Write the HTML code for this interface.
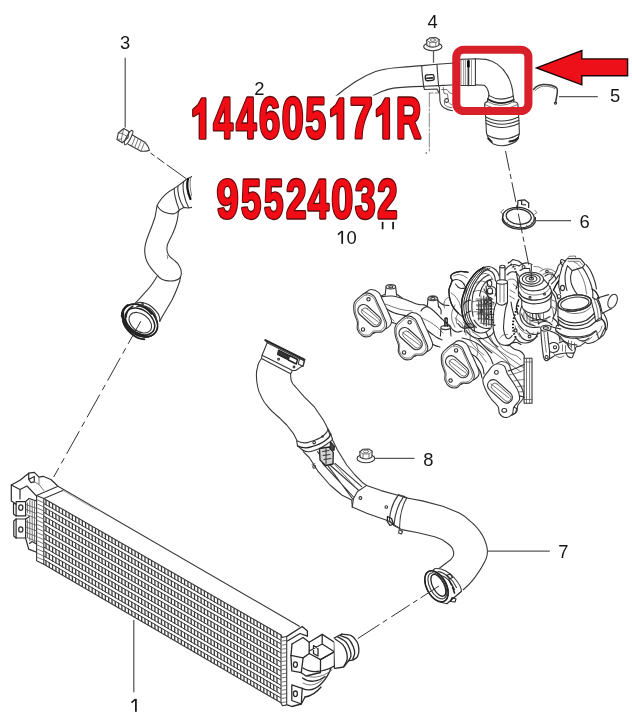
<!DOCTYPE html>
<html><head><meta charset="utf-8"><title>diagram</title>
<style>
html,body{margin:0;padding:0;background:#fff;}
body{width:632px;height:720px;overflow:hidden;font-family:"Liberation Sans",sans-serif;}
svg{display:block}
.l{fill:none;stroke:#383838;stroke-width:1.1;stroke-linecap:round;stroke-linejoin:round}
.t{fill:none;stroke:#555;stroke-width:.8;stroke-linecap:round;stroke-linejoin:round}
.k{fill:none;stroke:#222;stroke-width:1.4;stroke-linecap:round;stroke-linejoin:round}
.w{fill:#fff;stroke:#383838;stroke-width:1.1;stroke-linejoin:round}
.dd{fill:none;stroke:#333;stroke-width:1;stroke-dasharray:22 4 5 4}
.lead{fill:none;stroke:#585858;stroke-width:1.25}
.num{font-family:"Liberation Sans",sans-serif;font-size:18.4px;fill:#161616;text-anchor:middle}
.one{fill:none;stroke:#161616;stroke-width:1.75}
.onef{fill:none;stroke:#161616;stroke-width:1.5;stroke-linecap:butt}
.ro *,.rd *,.rf *{font-family:"Liberation Sans",sans-serif;font-weight:bold;stroke-linejoin:round;vector-effect:non-scaling-stroke}
.ro *{fill:#fff;stroke:#fff;stroke-width:6}
.rd *{fill:#5e090b;stroke:#5e090b;stroke-width:2.8}
.rf *{fill:#f20d16;stroke:#f20d16;stroke-width:.5}
</style></head><body>
<svg width="632" height="720" viewBox="0 0 632 720" style="will-change:transform;opacity:.999">
<rect width="632" height="720" fill="#fff"/>
<!-- bolt 3 -->
<g id="bolt3" class="l">
<path d="M123.8 128.5L129 131.5L128 137.5L122.3 142.8L117 139.5L118.3 133Z"/>
<path d="M123.8 128.5L122.5 133.5L118.3 133M122.5 133.5L127 136.5M122.5 133.5L121.5 139L117 139.5M121.5 139L122.3 142.8" class="t"/>
<ellipse cx="128.6" cy="137.6" rx="2.1" ry="8" transform="rotate(28 128.6 137.6)"/>
<path d="M132 134.8L144.8 142.2Q149 147 149.3 150.4Q145 151.6 141 151.2L128.2 144.2"/>
<path d="M135.3 136.8L131.6 146M138.3 138.6L134.6 147.8M141.3 140.3L137.6 149.5M144.6 142.2L140.9 151.2" class="t"/>
</g>
<path class="dd" d="M150.5 153L186 178.5" style="stroke-dasharray:5 3 9 3 30 3"/>
<!-- left hose (2) -->
<g id="lefthose" class="l">
<path d="M191.9 176.4L186.8 178.9L183.7 181.5L178 185.9L174.2 188.4C168 191.5 162 197 158.4 203C157 205.5 156.5 208 156.5 209C156 214 155 219 152 225.8C150 231 146 240 145.1 246C144.3 251 145 257 147 261.5C149.5 267 154 272 157.7 275.6"/>
<path d="M191.9 207.4L188.1 208L183.7 207.4L179.2 209.9C178.3 212 178 214 178 215.6C177.5 219 177 222 176.1 224.5C175 229 173 232.5 171.6 235.9C169.5 240 167.5 243.5 167.2 246C166.5 249.5 167 252.5 168.5 255C170.5 258 173 259.5 174.8 260.7C177 262.5 178.5 264 179.1 265.7C181 268.5 181.5 272 181.2 274C181 276 180.8 276.5 180.5 277.1C180 281 179 284 177.7 287C176 291.5 174 296 172 299.9L166.3 309.8L162 317L159.8 321.2"/>
<path d="M174.2 188.4C174 193 175.5 200 179.2 209.9"/>
<path d="M178 185.9C177 191 179 200 183.7 207.4"/>
<path d="M183.7 181.5C182 187 184 199 188.7 207.8"/>
<path d="M188 179C186.5 184 187.5 192 190.5 199" stroke="#111" stroke-width="2.2"/>
<path d="M190.6 177.5C189.6 183 190 190 191.8 196" class="t"/>
<path d="M157.1 205.5C159 209 162 211.5 165.3 212.5C169 213.8 172 214 174.2 213.7C176 213.3 177.5 212 178.6 210.6"/>
<path d="M157.7 275.6C160 278.5 163 280 166.3 280.6C169 281.2 172 281.2 174.8 280.6C177 280 179.5 278.5 180.5 277.1"/>
<path d="M157 276.4C155.5 279 153.5 282 152 284.2C150 287 147 290.5 144.9 292.7L138.5 299.9L134.2 304.1"/>
<path d="M167.5 258.5C168 257.3 167.6 256.3 167.2 255.5" class="t"/>
</g>
<g id="leftclamp">
<g transform="rotate(38 139.9 320.5)">
<ellipse class="w" cx="139.9" cy="320.5" rx="19.6" ry="14"/>
<ellipse class="k" cx="139.9" cy="320.5" rx="19.6" ry="14" style="stroke-width:1.7"/>
<ellipse class="k" cx="140.6" cy="321.2" rx="16.4" ry="11.4" style="stroke-width:1.5"/>
<ellipse class="l" cx="141.6" cy="322" rx="12.6" ry="8.6"/>
<path class="k" d="M122 325C127 333 146 336.5 156.5 328" style="stroke-width:2.4"/>
<path class="k" d="M127 331.5C134 337 148 338 155 332.5" style="stroke-width:1.8"/>
<path class="k" d="M121 316C119.5 320 120.5 324.5 123 328" style="stroke-width:2.4"/>
<path class="k" d="M125.5 313.5C123.5 318 124.5 323 127 326.5" style="stroke-width:1.6"/>
<path class="k" d="M130 309.5C134 307.5 140 307 145 308" style="stroke-width:1.8"/>
</g>
<path class="l" d="M134.2 304.1C137 302.5 140.5 302 143.5 302.7C147 303.6 150 305 152 307C155 309.5 157 312 158.4 314.1C159.5 316.5 160 319 159.8 321.2"/>
<path class="l" d="M136.5 307C140 305 145.5 305.5 150 308.5C154 311.5 156.8 316 156.5 322"/>
<circle cx="142.6" cy="303.9" r=".8" class="l"/>
</g>
<path class="dd" d="M140.8 321.2L53.7 477" style="stroke-dasharray:26 5 6 5"/>
<!-- pipe 2 right part, nut 4, bracket -->
<g id="pipe2" class="l" transform="translate(0 1)">
<path d="M335.5 95.5C342 90 349 85 355.3 80.8C362 76.5 369 73 375.6 70.6C382 68.5 389 67.4 395.8 66.8C405 66 414 65.2 422.4 64.6L437 63.3L458 61.8"/>
<path d="M371.8 95.5C374.5 93.8 377.5 92.2 380.6 90.9C385 89.2 389 88 393.3 87.1C403 85.9 414 85.6 423.7 85.3L438.9 84.6L452 84"/>
<path d="M421.7 64.8C422 72 423 80 423.8 86.2"/>
<path d="M437 63.5C437.3 70 438 78 438.6 85.2"/>
<rect x="425.3" y="73.8" width="8.8" height="5.8" rx="2" transform="rotate(-4 429.7 76.7)" stroke="#222" stroke-width="1.3"/>
<path d="M426.8 77.3L432.6 76.9" stroke="#222" stroke-width="1.6"/>
<!-- bracket -->
<path d="M423.8 86.2L424.5 88.5L437 88L438.8 91.5"/>
<path d="M439.3 86L440 100C440.3 103 441.5 105 444 106.8C446.5 108.4 449.5 109.3 452.5 109.7"/>
<path d="M443.3 86.5L444 92.5L447.5 93L448 97.5" class="t"/>
<circle cx="446.6" cy="99.5" r="1.9"/>
<path d="M448.6 101.5C450 103 451 103.5 452 103.8M444.3 100L444.6 103.5C446 105.5 449 106.5 452 106.8" class="t"/>
<path d="M441.5 88.5L447 88.5L449.5 92L452 92.5" class="t"/>
</g>
<g id="nut4" class="l" style="stroke-width:1.15;stroke:#2a2a2a">
<ellipse class="w" cx="432.8" cy="46.6" rx="9.2" ry="4.1"/>
<path class="w" d="M427 45.5L426.6 40.2L430 37.8L436 37.6L439.2 39.8L438.8 45.4C436 47.6 430 47.8 427 45.5Z"/>
<path d="M426.6 40.2L429.8 42.3L435.8 42.4L439.2 39.8M429.8 42.3L429.9 47M435.8 42.4L435.8 47" class="t"/>
<ellipse cx="432.9" cy="40" rx="2.6" ry="1.4" class="t"/>
</g>
<path class="lead" d="M433.5 51V62.8"/>
<!-- thin vertical dash-dot line at x=429 -->
<path d="M429.3 93V152" class="t" style="stroke-dasharray:14 2 2 2;stroke:#666"/>
<path d="M429.3 93H439.5" class="t" style="stroke-dasharray:4 2;stroke:#666"/>
<circle cx="426.3" cy="153" r=".8" fill="#444"/>
<!-- elbow & connector -->
<g id="elbow" class="l">
<path d="M458 61.5L461 59.4L475.4 58.8L486.1 59.4C490 60.3 494 62 497.2 64.1C501 66.8 504.3 70.2 506.7 74.4C509 78 510.6 82 511.5 85.5C512.5 89 513 92.5 513.2 96"/>
<path d="M475.4 84.9L484.2 85.3C486 86.5 487.3 88.5 488 90.5C488.6 92.3 488.9 94 489 95.6"/>
<path d="M461 59.6V85.5M463.7 59.4V85.5M465.6 59.4V85.5" class="t" style="stroke:#777"/><path d="M475.4 58.8V84.9"/>
<path d="M468.4 60V85.5" stroke="#333" stroke-width="1.7"/><path d="M468.4 60.6V67.2" stroke="#000" stroke-width="2.6" stroke-linecap="butt"/>
<path d="M461 85.5H475.4"/>
<path d="M471.5 60V84.5" class="t" style="stroke:#888"/>
<path d="M489 95.6Q500.6 102.4 513.2 96"/>
<path d="M487.8 99Q500.5 107 513.8 99.7" stroke="#222" stroke-width="1.6"/>
<path d="M489 95.6L487.8 99L487.4 101.6M513.2 96L513.8 99.7L513.6 101.8"/>
<path d="M487.4 101.6Q500.5 109.2 513.6 101.8" class="t"/>
<path d="M487.4 101.6C485.6 102 484.6 103 484.6 104.5L485.7 118L486.5 133C487.3 136 488.5 138.5 489.7 139.9L492.8 143.7Q503.5 148.5 515.6 141.8C517 140.5 518 139 518.2 138L519.4 133L518.8 118L517.9 104.5C517.8 103 516.6 102 513.6 101.8"/>
<path d="M484.6 104.5Q500.5 113.5 517.9 104.5" class="t"/>
<path d="M485.7 117Q501 125 518.6 117M486 120.2Q501.5 128.3 518.8 120.2M486.2 123.4Q501.5 131.5 519 123.4"/>
<path d="M487.6 135.3Q503 143.5 518.9 134.2"/>
<path d="M488.3 138.5L491.5 141.8M509.5 141.5C513 141 516.5 139.8 518 138" stroke="#222" stroke-width="2"/>
</g>
<path class="dd" d="M505.5 151L531 276" style="stroke-dasharray:20 3.5 5 3.5"/>
<!-- part 6 clamp -->
<g id="clamp6" class="l" style="stroke-width:1.25;stroke:#2a2a2a">
<ellipse cx="518.5" cy="217.6" rx="15.8" ry="10.2" transform="rotate(6 518.5 217.6)"/>
<ellipse cx="518.7" cy="216.6" rx="12.6" ry="7.6" transform="rotate(6 518.7 216.6)"/>
<path d="M503 214.5L502.3 219.5C503.5 224.5 510 228.5 518.5 229.2C527 229.6 533.5 226.5 535.2 222L535.4 217.5" />
<path d="M507 225.5L507.5 222.6M513 228.4L513.3 225.6M520 229.2L520 226.3M527 228L526.6 225.3M532 225L531.3 222.6" class="t"/>
<path d="M517.6 206.3L518 200.5L524.5 199.8L528.8 203L528.6 207.4M521.5 200.2L521.7 204.5L525.6 204.8" />
<path d="M502.6 214L500.8 211.8L503.8 209.4M534.6 214.2L537 212.6L534.8 210.3" class="t"/>
</g>
<!-- part 5 clip -->
<g id="clip5" class="l">
<path d="M533.5 89.5C536 86.5 539.5 84.8 543 84.6C548 84.3 553.5 85.6 556.5 87.6C558 89.5 557.5 92 557 94.5L555.6 102.5" stroke-width="1.5"/>
<path d="M535 90.8C537.5 88 540.5 86.4 543.5 86.2C548 86 552.5 87 555 88.6" class="t"/>
<ellipse cx="555.5" cy="103.3" rx="1.2" ry=".9"/>
</g>
<!-- manifold + turbo -->
<g id="turbo" class="l" style="stroke-width:1.1;stroke:#303030">
<path d="M378.0 297.0C379.0 296.9 381.7 296.7 384.0 296.5C386.3 296.3 389.3 295.8 392.0 296.0C394.7 296.2 397.3 296.9 400.0 297.7C402.7 298.4 405.6 299.6 408.0 300.5C410.4 301.4 412.6 302.5 414.4 303.2C416.2 303.9 417.4 304.2 419.0 304.5C420.6 304.8 423.1 304.8 423.9 304.8"/>
<path d="M384.3 307.2C385.1 307.7 387.4 309.4 389.0 310.3C390.6 311.2 392.0 312.0 393.8 312.7C395.6 313.4 397.9 314.0 400.0 314.5C402.1 315.0 404.5 315.4 406.5 315.9C408.5 316.4 411.1 317.2 412.0 317.5"/>
<path d="M383.0 312.0C383.5 313.0 384.7 316.3 386.0 318.0C387.3 319.7 389.3 321.1 391.0 322.0C392.7 322.9 395.2 323.2 396.0 323.5"/>
<path d="M381.0 303.0C382.2 303.3 385.5 304.2 388.0 305.0C390.5 305.8 393.3 307.2 396.0 308.0C398.7 308.8 401.3 309.5 404.0 310.0C406.7 310.5 410.7 310.8 412.0 311.0" class="t"/>
<path d="M389.0 313.0C389.3 313.8 390.2 316.7 391.0 318.0C391.8 319.3 393.5 320.5 394.0 321.0" class="t"/>
<path d="M386.1 286.8L385.1 295.3M395.6 286.8L396.6 295.3"/>
<ellipse class="w" cx="390.8" cy="286.8" rx="4.8" ry="2.2"/>
<ellipse cx="390.8" cy="286.8" rx="2.1" ry="1.1"/>
<path d="M428.1 298.6L427.1 307.1M437.6 298.6L438.6 307.1"/>
<ellipse class="w" cx="432.8" cy="298.6" rx="4.8" ry="2.2"/>
<ellipse cx="432.8" cy="298.6" rx="2.1" ry="1.1"/>
<path d="M384.5 294.5C383.9 294.8 382.0 295.4 381.0 296.0C380.0 296.6 378.9 297.7 378.5 298.0"/>
<path d="M397.0 294.5C397.5 294.8 399.2 295.9 400.0 296.5C400.8 297.1 401.7 297.8 402.0 298.0"/>
<path d="M426.5 306.5C425.9 306.8 423.9 307.8 423.0 308.5C422.1 309.2 421.3 310.6 421.0 311.0"/>
<path d="M439.0 306.5C439.3 307.1 440.7 308.8 441.0 310.0C441.3 311.2 441.0 313.3 441.0 314.0"/>
<path d="M423.9 304.8C424.9 305.3 428.0 306.6 430.0 308.0C432.0 309.4 434.2 311.3 436.0 313.0C437.8 314.7 439.3 316.3 441.0 318.0C442.7 319.7 444.5 321.3 446.0 323.0C447.5 324.7 449.3 327.2 450.0 328.0"/>
<path d="M427.0 330.0C427.8 330.7 430.3 332.8 432.0 334.0C433.7 335.2 435.3 336.5 437.0 337.5C438.7 338.5 441.2 339.6 442.0 340.0"/>
<path d="M425.5 334.0C426.0 335.0 427.1 338.2 428.5 340.0C429.9 341.8 432.1 343.8 434.0 345.0C435.9 346.2 439.0 346.7 440.0 347.0"/>
<path d="M422.0 318.0C423.3 318.7 427.5 320.5 430.0 322.0C432.5 323.5 434.8 325.2 437.0 327.0C439.2 328.8 442.0 332.0 443.0 333.0" class="t"/>
<path d="M415.0 314.0C415.8 315.7 418.5 321.3 420.0 324.0C421.5 326.7 423.3 329.0 424.0 330.0" class="t"/>
<path d="M444.9 318.5V326.5M447.3 318.5V326.5" stroke="#222"/>
<ellipse cx="446.1" cy="318.3" rx="1.2" ry=".6"/>
<path d="M441 327.8L440.4 336M450.3 327.8L451 336"/>
<ellipse class="w" cx="445.6" cy="327.6" rx="4.7" ry="2"/>
<path d="M444.9 322V326.5M447.3 322V326.5" stroke="#222"/>
<ellipse class="w" cx="469.4" cy="325.8" rx="4.6" ry="2"/>
<path d="M464.8 326L464.4 332M474 326L474.5 331"/>
<path d="M462.0 338.0C463.3 338.3 467.3 339.0 470.0 340.0C472.7 341.0 475.5 342.3 478.0 344.0C480.5 345.7 483.0 347.8 485.0 350.0C487.0 352.2 488.7 354.7 490.0 357.0C491.3 359.3 492.5 362.8 493.0 364.0"/>
<path d="M471.0 354.0C471.8 354.5 474.5 355.7 476.0 357.0C477.5 358.3 478.8 360.2 480.0 362.0C481.2 363.8 482.3 366.0 483.0 368.0C483.7 370.0 483.8 373.0 484.0 374.0"/>
<path d="M473.0 362.0C473.7 362.7 475.8 364.3 477.0 366.0C478.2 367.7 479.7 370.0 480.5 372.0C481.3 374.0 481.8 377.0 482.0 378.0"/>
<path d="M466.0 345.0C467.2 345.5 470.7 346.5 473.0 348.0C475.3 349.5 477.8 351.7 480.0 354.0C482.2 356.3 485.0 360.7 486.0 362.0" class="t"/>
<path d="M476.0 343.0C476.3 344.2 477.8 347.8 478.0 350.0C478.2 352.2 477.2 355.0 477.0 356.0" class="t"/>
<path d="M466 332L521 372M472 331.5L524 368" class="t"/>
<path d="M370.9 289.5C373.3 289.4 376.8 290.9 378.8 292.7C380.8 294.6 381.2 297.3 382.8 300.6C384.4 303.9 386.9 308.9 388.3 312.5C389.8 316.1 391.8 319.4 391.5 322.0C391.2 324.6 388.9 327.1 386.8 328.3C384.7 329.5 380.9 328.3 378.8 329.1C376.7 329.9 376.1 332.6 374.1 333.1C372.1 333.6 369.0 333.5 367.0 332.3C365.0 331.1 363.0 328.2 362.2 325.9C361.4 323.7 362.7 321.6 362.2 318.8C361.7 316.0 359.5 312.5 359.0 309.3C358.5 306.1 358.1 302.4 359.0 299.8C359.9 297.2 362.6 295.2 364.6 293.5C366.6 291.8 368.5 289.6 370.9 289.5Z" class="w"/>
<path d="M366.1 292.9C368.5 292.8 372.0 294.2 374.0 296.1C376.0 298.0 376.4 300.7 378.0 304.0C379.6 307.3 382.1 312.3 383.5 315.9C384.9 319.5 386.9 322.8 386.7 325.4C386.4 328.0 384.1 330.5 382.0 331.7C379.9 332.9 376.1 331.7 374.0 332.5C371.9 333.3 371.3 336.0 369.3 336.5C367.3 337.0 364.2 336.9 362.2 335.7C360.2 334.5 358.2 331.6 357.4 329.3C356.6 327.1 357.9 325.0 357.4 322.2C356.9 319.4 354.7 315.9 354.2 312.7C353.7 309.5 353.3 305.8 354.2 303.2C355.1 300.6 357.8 298.6 359.8 296.9C361.8 295.2 363.7 293.0 366.1 292.9Z" class="w"/>
<path d="M366.3 294.8C368.5 294.7 371.7 296.1 373.4 297.8C375.2 299.5 375.6 302.0 377.0 305.0C378.5 308.1 380.7 312.7 382.0 316.0C383.3 319.3 385.1 322.3 384.9 324.7C384.7 327.1 382.6 329.4 380.6 330.5C378.7 331.6 375.4 330.5 373.4 331.2C371.5 332.0 371.0 334.4 369.2 334.9C367.4 335.4 364.6 335.3 362.8 334.2C361.0 333.1 359.2 330.4 358.5 328.3C357.8 326.2 359.0 324.3 358.5 321.8C358.0 319.2 356.1 315.9 355.6 313.0C355.1 310.1 354.8 306.7 355.6 304.3C356.5 301.9 358.9 300.1 360.7 298.5C362.5 296.9 364.2 294.9 366.3 294.8Z" class="t"/>
<circle cx="368.5" cy="299.3" r="1.7"/>
<circle cx="363.0" cy="329.5" r="1.7"/>
<rect x="355.8" y="309.9" width="27.5" height="11.4" rx="5.7" transform="rotate(42 369.5 315.6)"/>
<rect class="t" x="359.7" y="313.0" width="22.0" height="7.0" rx="3.5" transform="rotate(42 370.7 316.5)"/>
<path d="M361.5 309.6L378.5 322.1" class="t"/>
<path d="M412.0 312.5C414.4 312.4 417.9 313.9 419.9 315.7C421.9 317.6 422.3 320.3 423.9 323.6C425.5 326.9 428.0 331.9 429.4 335.5C430.9 339.1 432.9 342.4 432.6 345.0C432.4 347.6 430.0 350.1 427.9 351.3C425.8 352.5 422.0 351.3 419.9 352.1C417.8 352.9 417.2 355.6 415.2 356.1C413.2 356.6 410.1 356.5 408.1 355.3C406.1 354.1 404.1 351.2 403.3 348.9C402.5 346.7 403.8 344.6 403.3 341.8C402.8 339.0 400.6 335.5 400.1 332.3C399.6 329.1 399.2 325.4 400.1 322.8C401.0 320.2 403.7 318.2 405.7 316.5C407.7 314.8 409.6 312.6 412.0 312.5Z" class="w"/>
<path d="M407.2 315.9C409.6 315.8 413.1 317.2 415.1 319.1C417.1 321.0 417.5 323.7 419.1 327.0C420.7 330.3 423.2 335.3 424.6 338.9C426.1 342.5 428.1 345.8 427.8 348.4C427.6 351.0 425.2 353.5 423.1 354.7C421.0 355.9 417.2 354.7 415.1 355.5C413.0 356.3 412.4 359.0 410.4 359.5C408.4 360.0 405.3 359.9 403.3 358.7C401.3 357.5 399.3 354.6 398.5 352.3C397.7 350.1 399.0 348.0 398.5 345.2C398.0 342.4 395.8 338.9 395.3 335.7C394.8 332.5 394.4 328.8 395.3 326.2C396.2 323.6 398.9 321.6 400.9 319.9C402.9 318.2 404.8 316.0 407.2 315.9Z" class="w"/>
<path d="M407.4 317.8C409.6 317.7 412.8 319.1 414.5 320.8C416.3 322.5 416.7 325.0 418.1 328.0C419.6 331.1 421.8 335.7 423.1 339.0C424.4 342.3 426.2 345.3 426.0 347.7C425.8 350.1 423.7 352.4 421.7 353.5C419.8 354.6 416.5 353.5 414.5 354.2C412.6 355.0 412.1 357.4 410.3 357.9C408.5 358.4 405.7 358.3 403.9 357.2C402.1 356.1 400.3 353.4 399.6 351.3C398.9 349.2 400.1 347.3 399.6 344.8C399.1 342.2 397.2 338.9 396.7 336.0C396.2 333.1 395.9 329.7 396.7 327.3C397.6 324.9 400.0 323.1 401.8 321.5C403.6 319.9 405.3 317.9 407.4 317.8Z" class="t"/>
<circle cx="409.6" cy="322.3" r="1.7"/>
<circle cx="404.1" cy="352.5" r="1.7"/>
<rect x="396.9" y="332.9" width="27.5" height="11.4" rx="5.7" transform="rotate(42 410.6 338.6)"/>
<rect class="t" x="400.8" y="336.0" width="22.0" height="7.0" rx="3.5" transform="rotate(42 411.8 339.5)"/>
<path d="M402.6 332.6L419.6 345.1" class="t"/>
<path d="M458.5 340.6C460.9 340.5 464.4 342.0 466.4 343.8C468.4 345.6 468.8 348.4 470.4 351.7C472.0 355.0 474.5 360.0 475.9 363.6C477.4 367.2 479.4 370.5 479.1 373.1C478.9 375.7 476.5 378.2 474.4 379.4C472.3 380.6 468.5 379.4 466.4 380.2C464.3 381.0 463.7 383.7 461.7 384.2C459.7 384.7 456.6 384.6 454.6 383.4C452.6 382.2 450.6 379.2 449.8 377.0C449.0 374.8 450.3 372.7 449.8 369.9C449.3 367.1 447.1 363.6 446.6 360.4C446.1 357.2 445.7 353.5 446.6 350.9C447.5 348.3 450.2 346.3 452.2 344.6C454.2 342.9 456.1 340.7 458.5 340.6Z" class="w"/>
<path d="M453.7 344.0C456.1 343.9 459.6 345.4 461.6 347.2C463.6 349.0 464.0 351.8 465.6 355.1C467.2 358.4 469.7 363.4 471.1 367.0C472.6 370.6 474.6 373.9 474.3 376.5C474.1 379.1 471.7 381.6 469.6 382.8C467.5 384.0 463.7 382.8 461.6 383.6C459.5 384.4 458.9 387.1 456.9 387.6C454.9 388.1 451.8 388.0 449.8 386.8C447.8 385.6 445.8 382.6 445.0 380.4C444.2 378.1 445.5 376.1 445.0 373.3C444.5 370.5 442.3 367.0 441.8 363.8C441.3 360.6 440.9 356.9 441.8 354.3C442.7 351.7 445.4 349.7 447.4 348.0C449.4 346.3 451.3 344.1 453.7 344.0Z" class="w"/>
<path d="M453.9 345.9C456.1 345.8 459.3 347.2 461.0 348.9C462.8 350.6 463.2 353.1 464.6 356.1C466.1 359.2 468.3 363.8 469.6 367.1C470.9 370.4 472.7 373.4 472.5 375.8C472.3 378.2 470.2 380.5 468.2 381.6C466.3 382.7 463.0 381.6 461.0 382.3C459.1 383.1 458.6 385.5 456.8 386.0C455.0 386.5 452.2 386.4 450.4 385.3C448.6 384.2 446.8 381.5 446.1 379.4C445.4 377.3 446.6 375.4 446.1 372.9C445.6 370.3 443.7 367.0 443.2 364.1C442.7 361.2 442.4 357.8 443.2 355.4C444.1 353.0 446.5 351.2 448.3 349.6C450.1 348.0 451.8 346.0 453.9 345.9Z" class="t"/>
<circle cx="456.1" cy="350.4" r="1.7"/>
<circle cx="450.6" cy="380.6" r="1.7"/>
<rect x="443.4" y="361.0" width="27.5" height="11.4" rx="5.7" transform="rotate(42 457.1 366.7)"/>
<rect class="t" x="447.3" y="364.1" width="22.0" height="7.0" rx="3.5" transform="rotate(42 458.3 367.6)"/>
<path d="M449.1 360.7L466.1 373.2" class="t"/>
<path d="M501.4 361.5C503.4 361.5 506.8 362.2 508.5 363.9C510.2 365.6 510.1 368.9 511.7 371.8C513.3 374.7 516.2 378.3 518.0 381.3C519.8 384.3 521.8 387.2 522.7 390.0C523.6 392.8 524.3 395.4 523.5 397.9C522.7 400.4 519.2 402.6 518.0 405.0C516.8 407.4 517.9 410.5 516.4 412.2C515.0 413.9 511.4 415.4 509.3 415.3C507.2 415.2 505.0 413.2 503.8 411.4C502.6 409.6 503.6 406.8 502.2 404.3C500.8 401.8 497.2 399.2 495.1 396.3C493.0 393.4 490.8 389.9 489.5 386.8C488.2 383.7 486.6 380.4 487.1 377.4C487.6 374.4 491.1 370.9 492.7 368.7C494.3 366.4 495.1 365.1 496.6 363.9C498.0 362.7 499.4 361.5 501.4 361.5Z" class="w"/>
<path d="M497.2 363.7C499.2 363.7 502.6 364.4 504.3 366.1C506.0 367.8 505.9 371.1 507.5 374.0C509.1 376.9 512.0 380.5 513.8 383.5C515.6 386.5 517.6 389.4 518.5 392.2C519.4 395.0 520.1 397.6 519.3 400.1C518.5 402.6 515.0 404.8 513.8 407.2C512.6 409.6 513.7 412.7 512.2 414.4C510.8 416.1 507.2 417.6 505.1 417.5C503.0 417.4 500.8 415.4 499.6 413.6C498.4 411.8 499.4 409.0 498.0 406.5C496.6 404.0 493.0 401.4 490.9 398.5C488.8 395.6 486.6 392.1 485.3 389.0C484.0 385.9 482.4 382.6 482.9 379.6C483.4 376.6 486.9 373.1 488.5 370.9C490.1 368.6 490.9 367.3 492.4 366.1C493.8 364.9 495.2 363.7 497.2 363.7Z" class="w"/>
<circle cx="496.4" cy="372.4" r="1.9"/>
<ellipse cx="504.3" cy="410.4" rx="2.4" ry="1.9"/>
<rect x="485.2" y="385.7" width="29.5" height="11.4" rx="5.7" transform="rotate(42 500.0 391.4)"/>
<rect class="t" x="489.2" y="388.8" width="24.0" height="7.0" rx="3.5" transform="rotate(42 501.2 392.3)"/>
<path d="M491 384L509 398" class="t"/>
<path d="M512 415L515.5 413L517 408.5L513.8 407.2" />
<path d="M524.1 358.2H532V403.3H524.1Z" class="w"/>
<path d="M526.5 358.2V403.3M529.6 358.2V403.3" class="t"/>
<path d="M524.1 362H532M524.1 399.5H532" class="t"/>
<path d="M508.0 371.0C509.0 370.7 512.0 369.8 514.0 369.0C516.0 368.2 518.3 367.2 520.0 366.5C521.7 365.8 523.4 364.8 524.1 364.5"/>
<path d="M519.5 396.0C519.9 396.1 521.2 396.2 522.0 396.5C522.8 396.8 523.8 397.3 524.1 397.5"/>
<path d="M509.0 375.0C510.0 374.8 513.0 374.1 515.0 373.5C517.0 372.9 519.5 372.1 521.0 371.5C522.5 370.9 523.6 370.2 524.1 370.0" class="t"/>
<path d="M514.0 381.0C514.8 380.8 517.3 380.2 519.0 380.0C520.7 379.8 523.2 379.6 524.0 379.5" class="t"/>
<path d="M517.5 386.5L524 386M519 392L524 391.5" class="t"/>
<path d="M468.0 272.2C466.7 272.1 462.5 271.3 460.0 271.5C457.5 271.7 454.6 272.6 453.0 273.5C451.4 274.4 450.8 275.6 450.6 276.9C450.4 278.1 452.3 278.9 452.0 281.0C451.7 283.1 449.4 286.9 449.0 289.6C448.6 292.3 449.1 294.6 449.5 297.0C449.9 299.4 450.6 301.8 451.4 303.8C452.2 305.8 453.3 307.4 454.5 309.0C455.7 310.6 457.1 312.0 458.5 313.3C459.9 314.6 462.2 316.4 463.0 317.0"/>
<path d="M452.0 281.0C452.7 280.8 454.5 279.5 456.0 279.5C457.5 279.5 459.7 280.2 461.0 281.0C462.3 281.8 463.5 283.5 464.0 284.0"/>
<path d="M453.5 276.0C454.2 275.8 456.4 274.6 458.0 274.5C459.6 274.4 461.5 274.9 463.0 275.5C464.5 276.1 466.3 277.6 467.0 278.0" class="t"/>
<path d="M451.0 293.0C451.7 293.5 453.7 294.5 455.0 296.0C456.3 297.5 458.0 300.0 459.0 302.0C460.0 304.0 460.7 307.0 461.0 308.0" class="t"/>
<path d="M483.8 267.4C482.6 268.2 478.6 270.1 476.5 272.0C474.4 273.9 472.7 276.2 471.1 278.5C469.5 280.8 468.0 283.1 466.8 285.5C465.6 287.9 464.8 290.3 464.0 292.7C463.2 295.1 462.4 297.6 462.0 300.0C461.6 302.4 461.6 304.8 461.6 307.0C461.7 309.2 461.9 311.4 462.3 313.5C462.7 315.6 463.3 317.9 464.0 319.6C464.7 321.4 465.6 322.7 466.5 324.0C467.4 325.3 469.1 326.9 469.6 327.5" stroke-width="1.3"/>
<path d="M485.8 267.8C484.6 268.5 480.8 270.2 478.7 272.0C476.6 273.8 474.9 276.2 473.3 278.5C471.7 280.8 470.2 283.1 469.0 285.5C467.8 287.9 467.0 290.3 466.2 292.7C465.4 295.1 464.6 297.6 464.2 300.0C463.8 302.4 463.8 304.8 463.8 307.0C463.9 309.2 464.1 311.4 464.5 313.5C464.9 315.6 465.5 317.9 466.2 319.6C466.9 321.4 467.8 322.7 468.7 324.0C469.6 325.3 471.3 326.9 471.8 327.5" stroke-width="1.0"/>
<path d="M487.8 268.3C486.6 268.9 482.9 270.3 480.9 272.0C478.9 273.7 477.1 276.2 475.5 278.5C473.9 280.8 472.4 283.1 471.2 285.5C470.0 287.9 469.2 290.3 468.4 292.7C467.6 295.1 466.8 297.6 466.4 300.0C466.0 302.4 465.9 304.8 466.0 307.0C466.1 309.2 466.3 311.4 466.7 313.5C467.1 315.6 467.7 317.9 468.4 319.6C469.1 321.4 470.0 322.7 470.9 324.0C471.8 325.3 473.5 326.9 474.0 327.5" stroke-width="1.0"/>
<path d="M489.7 268.7C488.6 269.3 485.1 270.4 483.1 272.0C481.1 273.6 479.3 276.2 477.7 278.5C476.1 280.8 474.6 283.1 473.4 285.5C472.2 287.9 471.4 290.3 470.6 292.7C469.8 295.1 469.0 297.6 468.6 300.0C468.2 302.4 468.2 304.8 468.2 307.0C468.3 309.2 468.5 311.4 468.9 313.5C469.3 315.6 469.9 317.9 470.6 319.6C471.3 321.4 472.2 322.7 473.1 324.0C474.0 325.3 475.7 326.9 476.2 327.5" stroke-width="1.2"/>
<path d="M483.8 267.4C484.7 267.2 487.3 266.3 489.0 266.5C490.7 266.7 492.6 267.6 494.0 268.5C495.4 269.4 496.7 270.8 497.5 272.0C498.3 273.2 498.8 275.3 499.0 276.0"/>
<path d="M488.0 270.0C488.7 270.3 490.9 271.0 492.0 272.0C493.1 273.0 493.9 274.5 494.5 276.0C495.1 277.5 495.3 280.2 495.5 281.0"/>
<path d="M480.0 275.0C480.8 274.8 483.3 273.4 485.0 273.5C486.7 273.6 488.7 274.4 490.0 275.5C491.3 276.6 492.5 279.2 493.0 280.0" class="t"/>
<path d="M476.0 283.0C476.8 282.7 479.2 281.0 481.0 281.0C482.8 281.0 485.3 281.8 487.0 283.0C488.7 284.2 490.3 287.2 491.0 288.0" class="t"/>
<path d="M473.0 292.0C474.0 291.8 477.0 290.3 479.0 290.5C481.0 290.7 483.3 291.8 485.0 293.0C486.7 294.2 488.3 297.2 489.0 298.0" class="t"/>
<path d="M472.0 302.0C473.0 301.8 476.0 300.7 478.0 301.0C480.0 301.3 482.3 302.5 484.0 304.0C485.7 305.5 487.3 309.0 488.0 310.0" class="t"/>
<path d="M473.0 312.0C473.8 312.0 476.2 311.3 478.0 312.0C479.8 312.7 482.5 314.3 484.0 316.0C485.5 317.7 486.5 321.0 487.0 322.0" class="t"/>
<path d="M481 296V318M484.5 300V322M488 296V316M491.5 303V324" class="t"/>
<path d="M476 299H492M477 306H493M478 313H492" class="t"/>
<ellipse cx="489.5" cy="283.5" rx="2.3" ry="3.2"/>
<ellipse cx="490" cy="291" rx="2.6" ry="3"/>
<path d="M486.0 286.0C486.2 287.3 486.3 291.7 487.0 294.0C487.7 296.3 488.8 298.5 490.0 300.0C491.2 301.5 493.3 302.5 494.0 303.0"/>
<path d="M469.6 327.5C470.3 328.1 472.3 330.1 474.0 331.0C475.7 331.9 478.0 332.8 480.0 333.0C482.0 333.2 484.3 332.7 486.0 332.0C487.7 331.3 489.3 329.5 490.0 329.0"/>
<path d="M466.0 330.0C466.7 330.8 468.3 333.7 470.0 335.0C471.7 336.3 473.8 337.4 476.0 338.0C478.2 338.6 480.7 338.8 483.0 338.5C485.3 338.2 488.2 337.1 490.0 336.0C491.8 334.9 493.3 332.7 494.0 332.0"/>
<path d="M463.0 322.0C463.7 322.8 465.8 325.2 467.0 327.0C468.2 328.8 469.5 330.8 470.0 333.0C470.5 335.2 470.0 338.8 470.0 340.0" class="t"/>
<path d="M455.0 318.0C455.8 318.7 458.5 320.3 460.0 322.0C461.5 323.7 463.0 325.8 464.0 328.0C465.0 330.2 465.7 333.8 466.0 335.0" class="t"/>
<path d="M488.8 275.0C488.0 275.4 485.5 276.4 484.0 277.5C482.5 278.6 481.2 280.1 480.0 281.3C478.8 282.6 477.8 283.8 477.0 285.0C476.2 286.2 475.6 287.5 475.0 288.8C474.4 290.1 473.7 291.6 473.3 293.0C472.9 294.4 472.7 295.9 472.5 297.5C472.3 299.1 472.1 300.8 472.0 302.5C471.9 304.2 471.8 305.9 471.9 307.5C471.9 309.1 472.1 310.5 472.3 312.0C472.5 313.5 473.0 315.6 473.1 316.3"/>
<path d="M492.0 279.0C491.2 279.3 488.4 280.0 487.0 281.0C485.6 282.0 484.5 283.5 483.5 285.0C482.5 286.5 481.7 288.2 481.0 290.0C480.3 291.8 479.8 295.0 479.5 296.0"/>
<path d="M483.8 296V325M486.3 297V326M488.8 296V325M491.3 298V327M481.3 300V322M478.8 302V320" stroke="#333"/>
<path d="M477 300.5L493 299M476.5 305L494 304M476.5 309.5L494 309M477 314L494 314.5M478 318.5L494 320M480 323L494 325" stroke="#444" stroke-width=".9"/>
<path d="M484.0 289.0C484.3 289.6 485.2 291.7 486.0 292.5C486.8 293.3 487.8 293.8 489.0 294.0C490.2 294.2 492.3 293.6 493.0 293.5"/>
<path d="M492.0 286.5C492.5 286.8 494.3 287.1 495.0 288.0C495.7 288.9 496.0 290.7 496.0 292.0C496.0 293.3 495.2 295.3 495.0 296.0"/>
<path d="M474.0 320.0C474.5 320.7 475.8 322.8 477.0 324.0C478.2 325.2 479.5 326.2 481.0 327.0C482.5 327.8 484.3 328.3 486.0 328.5C487.7 328.7 490.2 328.1 491.0 328.0"/>
<path d="M470.5 300.0C469.8 300.2 467.2 300.7 466.0 301.5C464.8 302.3 463.9 304.4 463.5 305.0"/>
<path d="M471.0 311.0C470.2 311.3 467.5 312.0 466.5 313.0C465.5 314.0 465.2 316.3 465.0 317.0"/>
<path d="M490.0 297.0C490.1 298.3 490.3 302.3 490.5 305.0C490.7 307.7 490.7 310.5 491.0 313.0C491.3 315.5 491.8 317.8 492.5 320.0C493.2 322.2 494.6 325.0 495.0 326.0" stroke="#111" stroke-width="1.6" stroke-dasharray="1.3 1.5" stroke-linecap="butt"/>
<circle cx="486" cy="302" r="1.6"/><circle cx="481.5" cy="311" r="1.4"/><circle cx="487.5" cy="317" r="1.5"/>
<path d="M470.0 327.0C469.2 327.2 466.5 328.5 465.0 328.5C463.5 328.5 462.2 327.8 461.0 327.0C459.8 326.2 458.5 324.1 458.0 323.5"/>
<path d="M462.0 331.0C461.2 331.2 458.5 332.2 457.0 332.0C455.5 331.8 454.2 331.0 453.0 330.0C451.8 329.0 450.5 326.7 450.0 326.0"/>
<path d="M450.0 326.0C449.3 325.3 446.7 323.1 446.0 322.0C445.3 320.9 445.8 320.0 445.8 319.6"/>
<path d="M455.0 305.0C454.5 306.2 452.5 309.5 452.0 312.0C451.5 314.5 451.5 317.5 452.0 320.0C452.5 322.5 454.5 325.8 455.0 327.0" class="t"/>
<path d="M458.5 313.3C458.1 314.1 456.2 316.2 456.0 318.0C455.8 319.8 456.8 323.0 457.0 324.0" class="t"/>
<path d="M464.0 284.0C464.3 284.8 465.7 287.0 466.0 288.5C466.3 290.0 466.0 292.2 466.0 293.0"/>
<path d="M455.5 284.0C455.9 284.5 457.0 286.2 458.0 287.0C459.0 287.8 460.2 288.3 461.5 288.5C462.8 288.7 464.8 288.1 465.5 288.0"/>
<path d="M449.5 297.0C448.9 297.3 446.9 298.0 446.0 299.0C445.1 300.0 444.2 301.5 444.0 303.0C443.8 304.5 444.4 307.2 444.5 308.0" class="t"/>
<path d="M437.5 300.0C438.0 300.5 439.4 302.2 440.5 303.0C441.6 303.8 442.6 304.6 444.0 305.0C445.4 305.4 448.2 305.4 449.0 305.5"/>
<path d="M499.8 267V281.6M505 267V281.6" />
<ellipse class="w" cx="502.4" cy="266.6" rx="2.6" ry="1.3"/>
<path d="M496.5 282V302.5M507.5 282V302.5"/>
<ellipse class="w" cx="502" cy="282" rx="5.5" ry="2.2"/>
<path d="M496.5 302.5C496.9 302.8 497.9 304.1 499.0 304.5C500.1 304.9 501.6 305.3 503.0 305.0C504.4 304.7 506.8 302.9 507.5 302.5"/>
<path d="M500 284V302M504 284V302" class="t"/>
<path d="M496.5 302.2C496.1 303.3 494.7 306.6 494.2 309.0C493.7 311.4 493.5 314.2 493.3 316.5C493.1 318.8 493.0 320.9 493.0 323.0C493.0 325.1 493.0 326.9 493.3 329.1C493.6 331.3 494.2 333.9 495.0 336.0C495.8 338.1 496.7 340.3 498.0 341.8C499.3 343.3 501.1 344.5 503.0 345.0C504.9 345.5 507.4 345.4 509.1 344.9C510.8 344.4 511.9 343.1 513.0 342.0C514.0 340.9 515.0 339.2 515.4 338.6"/>
<path d="M507.5 302.2C507.2 303.3 506.0 306.6 505.5 309.0C505.0 311.4 504.7 314.2 504.4 316.5C504.1 318.8 503.9 320.9 503.8 323.0C503.7 325.1 503.4 327.1 503.6 329.1C503.8 331.1 504.4 333.4 505.0 335.0C505.6 336.6 506.7 338.1 507.5 338.6C508.3 339.1 509.2 338.5 510.0 338.0C510.8 337.5 511.9 335.8 512.3 335.4"/>
<path d="M518.6 305.4C518.2 306.3 516.8 308.9 516.0 311.0C515.2 313.1 514.4 315.8 513.9 318.0C513.4 320.2 513.1 322.1 513.0 324.0C512.9 325.9 512.9 327.4 513.1 329.1C513.3 330.8 513.7 332.4 514.2 334.0C514.7 335.6 515.9 337.8 516.2 338.6" stroke="#111" stroke-width="2" stroke-dasharray="1.6 1.6" stroke-linecap="butt"/>
<path d="M508.0 262.5C508.7 262.9 510.8 263.9 512.0 265.0C513.2 266.1 514.2 267.5 515.0 269.0C515.8 270.5 516.2 273.2 516.5 274.0" stroke="#111" stroke-width="1.6" stroke-dasharray="1.4 1.6" stroke-linecap="butt"/>
<path d="M505.0 270.0C505.7 269.3 507.5 266.9 509.0 266.0C510.5 265.1 512.3 264.5 514.0 264.5C515.7 264.5 518.2 265.8 519.0 266.0"/>
<path d="M507.0 275.0C507.7 274.5 509.5 272.4 511.0 272.0C512.5 271.6 514.7 271.8 516.0 272.5C517.3 273.2 518.5 275.4 519.0 276.0"/>
<path d="M508.0 280.0C508.7 279.8 510.7 278.8 512.0 279.0C513.3 279.2 515.0 279.8 516.0 281.0C517.0 282.2 517.7 285.2 518.0 286.0" class="t"/>
<path d="M509.5 262.5L513 259.5L518.5 261L523 264.5" />
<path d="M512 268L516 266M513 284L517.5 287.5M510 290L515 293M509.5 296L514.5 299" class="t"/>
<ellipse cx="433" cy="297.8" rx="4.5" ry="2.1" class="t"/>
<path d="M518.4 291.0C518.3 293.8 518.1 294.6 518.6 296.0C519.1 297.4 521.1 297.8 521.6 299.5C522.1 301.2 521.4 304.2 521.8 306.0C522.2 307.8 522.6 308.8 524.0 310.0C525.4 311.2 527.8 312.4 530.0 313.0C532.2 313.6 534.7 313.6 537.0 313.5C539.3 313.4 542.0 313.1 544.0 312.5C546.0 311.9 547.9 311.1 549.0 310.0C550.1 308.9 550.6 307.8 550.9 306.0C551.2 304.2 550.8 301.2 550.9 299.5C551.0 297.8 551.5 297.4 551.6 296.0C551.7 294.6 552.2 293.0 551.6 291.0C551.0 289.0 549.3 285.9 548.0 284.0C546.7 282.1 545.4 281.2 543.7 279.5C542.0 277.8 540.1 275.2 538.0 274.0C535.9 272.8 533.3 272.3 531.0 272.2C528.7 272.1 526.0 272.4 524.0 273.5C522.0 274.6 520.1 276.1 519.2 279.0C518.3 281.9 518.5 288.2 518.4 291.0Z" class="w"/>
<ellipse class="w" cx="531.3" cy="279.3" rx="12.3" ry="7.1"/>
<ellipse cx="531.3" cy="279" rx="9" ry="5.1"/>
<ellipse cx="531.3" cy="278.8" rx="5.6" ry="3.2"/>
<ellipse cx="531.3" cy="278.7" rx="2.2" ry="1.3"/>
<path d="M519.0 281.5C519.5 282.4 520.5 285.6 522.0 287.0C523.5 288.4 525.8 289.6 528.0 290.2C530.2 290.8 532.7 290.9 535.0 290.8C537.3 290.7 540.0 290.3 542.0 289.5C544.0 288.7 545.8 287.2 547.0 286.0C548.2 284.8 548.7 282.7 549.0 282.0"/>
<path d="M518.4 291.0C519.0 291.9 520.2 295.1 522.0 296.5C523.8 297.9 526.7 298.9 529.0 299.5C531.3 300.1 533.5 300.2 536.0 300.0C538.5 299.8 541.8 299.3 544.0 298.5C546.2 297.7 548.2 296.2 549.5 295.0C550.8 293.8 551.2 291.7 551.6 291.0" stroke-width="1.3"/>
<path d="M518.6 295.5C519.2 296.3 520.8 299.2 522.5 300.5C524.2 301.8 526.8 302.8 529.0 303.3C531.2 303.9 533.5 304.0 536.0 303.8C538.5 303.6 541.8 303.1 544.0 302.3C546.2 301.5 548.2 300.1 549.5 299.0C550.8 297.9 551.2 296.1 551.6 295.5"/>
<path d="M519.5 286.0C520.1 286.9 521.4 290.1 523.0 291.5C524.6 292.9 526.8 293.9 529.0 294.5C531.2 295.1 533.7 295.1 536.0 295.0C538.3 294.9 541.0 294.4 543.0 293.7C545.0 292.9 546.8 291.7 548.0 290.5C549.2 289.3 550.1 287.2 550.5 286.5" class="t"/>
<circle cx="530" cy="297.2" r="1"/><circle cx="544.5" cy="294" r="1"/>
<path d="M532.5 313.5L533 320M536 313.5L536.5 320"/>
<path d="M531.5 320.5L538 320L538.5 324" />
<path d="M558.0 304.6C558.0 306.6 557.9 313.2 558.0 316.5C558.1 319.8 559.1 322.8 558.8 324.4C558.5 326.0 556.9 324.9 556.4 326.0C555.9 327.1 555.3 329.7 556.0 331.0C556.7 332.3 558.8 333.1 560.8 334.0C562.8 334.9 564.9 336.1 568.0 336.5C571.1 336.9 576.2 337.0 579.7 336.7C583.2 336.4 586.5 335.8 589.2 334.8C591.9 333.9 594.4 330.4 596.0 331.0C597.6 331.6 597.9 338.7 599.1 338.6C600.4 338.5 602.5 332.6 603.5 330.5C604.5 328.4 605.6 327.8 605.4 326.0C605.2 324.2 603.9 320.4 602.3 319.6C600.7 318.8 597.3 322.2 596.0 321.2C594.7 320.1 595.2 316.7 594.4 313.3C593.6 309.9 591.7 302.7 591.2 300.6" class="w"/>
<g transform="rotate(-7 574.6 303)">
<ellipse class="w" cx="574.6" cy="303" rx="16.8" ry="8"/>
<ellipse cx="574.6" cy="303" rx="16.8" ry="8" stroke-width="1.3"/>
<ellipse cx="574.8" cy="303.5" rx="14.2" ry="6.2"/>
</g>
<path d="M558.0 316.5C559.2 317.2 562.1 319.9 565.0 321.0C567.9 322.1 571.9 322.9 575.4 322.8C578.9 322.7 582.8 322.1 586.0 320.5C589.2 318.9 593.0 314.5 594.4 313.3" stroke-width="1.3"/>
<path d="M558.3 319.5C559.4 320.2 562.1 322.9 565.0 324.0C567.9 325.1 572.0 325.9 575.6 325.8C579.2 325.7 583.3 325.1 586.5 323.5C589.7 321.9 593.6 317.7 595.0 316.5"/>
<path d="M558.8 324.4C560.0 325.0 563.0 327.2 566.0 328.0C569.0 328.8 573.3 329.5 577.0 329.3C580.7 329.1 584.8 328.4 588.0 327.0C591.2 325.6 594.7 322.2 596.0 321.2" stroke-width="1.3"/>
<path d="M562.0 309.0C563.0 309.6 565.7 311.8 568.0 312.5C570.3 313.2 573.2 313.7 576.0 313.5C578.8 313.3 582.5 312.6 585.0 311.5C587.5 310.4 590.0 307.8 591.0 307.0" class="t"/>
<path d="M556.0 331.0C557.0 331.8 559.7 334.3 562.0 335.5C564.3 336.7 567.0 337.6 570.0 338.0C573.0 338.4 576.7 338.4 580.0 338.0C583.3 337.6 587.3 336.7 590.0 335.5C592.7 334.3 595.0 331.8 596.0 331.0"/>
<path d="M596.0 321.2C596.7 320.7 599.0 318.3 600.0 318.0C601.0 317.7 601.5 318.6 602.3 319.6C603.1 320.6 604.5 322.1 605.0 324.0C605.5 325.9 605.6 328.9 605.4 330.7C605.1 332.5 604.5 333.7 603.5 335.0C602.5 336.3 599.8 338.0 599.1 338.6"/>
<path d="M599.1 338.6C598.2 339.2 595.9 341.2 594.0 342.0C592.1 342.8 589.4 343.4 588.0 343.5C586.6 343.6 585.8 342.5 585.4 342.3"/>
<path d="M585.4 342.3C584.5 342.9 581.6 345.2 580.0 346.0C578.4 346.8 577.0 345.9 576.0 347.0C575.0 348.1 575.7 351.7 574.0 352.7C572.3 353.7 568.8 352.7 566.0 353.0C563.2 353.3 559.5 353.8 557.0 354.6C554.5 355.4 552.6 357.1 551.0 358.0C549.4 358.9 548.1 359.9 547.5 360.3"/>
<path d="M592.0 337.0C591.3 337.5 589.7 339.2 588.0 340.0C586.3 340.8 583.0 341.7 582.0 342.0" class="t"/>
<path d="M602.0 326.0C601.7 326.8 601.0 329.5 600.0 331.0C599.0 332.5 596.7 334.3 596.0 335.0" class="t"/>
<path d="M597.5 298L608.6 294.6M602.3 313.3L611.8 308.5"/>
<ellipse class="w" cx="612.6" cy="301.2" rx="4.3" ry="7.3" transform="rotate(22 612.6 301.2)"/>
<path d="M597.5 298.0C597.9 299.0 599.2 301.4 600.0 304.0C600.8 306.6 601.9 311.8 602.3 313.3"/>
<path d="M565.1 261.1C564.7 261.8 563.2 263.9 562.5 265.5C561.8 267.1 561.6 268.9 561.1 270.6C560.6 272.4 560.0 274.2 559.6 276.0C559.2 277.8 558.9 279.9 558.8 281.6C558.7 283.3 558.7 284.7 558.8 286.0C558.9 287.3 559.3 288.4 559.6 289.6C559.9 290.9 560.4 292.9 560.5 293.5"/>
<path d="M567.5 265.8C567.2 266.6 566.4 268.9 566.0 270.5C565.6 272.1 565.2 273.6 565.1 275.3C565.0 277.1 565.1 279.1 565.2 281.0C565.3 282.9 565.6 284.8 565.9 286.4C566.2 288.0 566.8 289.8 567.0 290.5"/>
<path d="M582.5 267.4C583.0 268.2 584.6 270.4 585.5 272.0C586.4 273.6 587.2 275.1 588.0 276.9C588.8 278.6 589.6 280.6 590.3 282.5C591.0 284.4 591.6 286.2 592.0 288.0C592.4 289.8 592.7 291.4 592.8 293.0C592.9 294.6 592.8 296.8 592.8 297.5"/>
<path d="M572.2 270.6C572.0 271.2 571.3 273.2 571.0 274.5C570.7 275.8 570.5 276.9 570.6 278.5C570.7 280.1 570.9 282.2 571.5 284.0C572.1 285.8 573.1 287.8 574.0 289.5C574.9 291.2 576.5 293.2 577.0 294.0"/>
<path d="M577.0 268.0C577.6 268.9 579.4 271.5 580.5 273.5C581.6 275.5 582.7 277.8 583.5 280.0C584.3 282.2 585.0 284.7 585.5 287.0C586.0 289.3 586.3 292.8 586.5 294.0" class="t"/>
<path d="M565.1 261.1L567.5 258.5L580.3 258.6L584.9 264.2L582.5 267.4L572.2 270.6L567.5 265.8"/>
<path d="M568 261.3L579.5 261.3L582.6 265" class="t"/>
<path d="M567.5 258.5L569 256.3L575.5 256L576 258.5" class="t"/>
<path d="M549.0 281.0C549.7 280.3 551.8 278.7 553.0 277.0C554.2 275.3 555.6 272.9 556.5 271.0C557.4 269.1 557.6 267.0 558.5 265.5C559.4 264.0 561.4 262.6 562.0 262.0"/>
<path d="M551.6 284.0C552.2 283.4 553.8 282.0 555.0 280.5C556.2 279.0 558.2 275.9 558.8 275.0"/>
<path d="M553.5 290.0C553.9 289.2 555.2 286.5 556.0 285.0C556.8 283.5 558.1 281.7 558.5 281.0" stroke="#111" stroke-width="1.5"/>
<ellipse cx="562.5" cy="288" rx="2" ry="2.6"/>
<ellipse cx="559" cy="296.5" rx="1.8" ry="2"/>
<path d="M543 274.5L548 272L553 273L551 277.5" class="t"/>
<path d="M551.5 300L556 301.5L558 304.6M551 306L555.5 309L558 312" class="t"/>
<path d="M551.8 292.0C552.2 292.7 553.8 294.5 554.5 296.0C555.2 297.5 555.7 299.2 556.0 301.0C556.3 302.8 556.4 305.0 556.3 307.0C556.2 309.0 556.0 311.2 555.5 313.0C555.0 314.8 553.4 317.2 553.0 318.0"/>
<path d="M553.5 290.0C554.0 290.7 555.8 292.5 556.5 294.0C557.2 295.5 557.8 298.2 558.0 299.0"/>
<path d="M550.9 306.0C551.2 306.8 552.6 309.2 553.0 311.0C553.4 312.8 553.7 315.2 553.5 317.0C553.3 318.8 552.2 321.2 552.0 322.0" class="t"/>
<path d="M553 318L557 321.5L558.5 326" />
<path d="M538.5 324.0C538.9 323.7 539.9 322.4 541.0 322.0C542.1 321.6 543.7 321.4 545.0 321.5C546.3 321.6 547.8 321.9 549.0 322.5C550.2 323.1 551.5 324.6 552.0 325.0"/>
<path d="M524.0 310.0C524.5 310.8 525.7 313.7 527.0 315.0C528.3 316.3 530.2 317.2 532.0 318.0C533.8 318.8 535.8 319.3 538.0 319.5C540.2 319.7 543.0 319.5 545.0 319.0C547.0 318.5 549.2 316.9 550.0 316.5"/>
<path d="M526.0 316.0C526.7 316.8 528.3 319.4 530.0 320.5C531.7 321.6 534.2 322.2 536.0 322.5C537.8 322.8 540.2 322.5 541.0 322.5" class="t"/>
<path d="M560.0 336.0C560.7 336.8 562.3 339.7 564.0 341.0C565.7 342.3 567.8 343.3 570.0 344.0C572.2 344.7 575.8 344.8 577.0 345.0"/>
<path d="M557.5 331.0C557.9 332.2 558.8 336.0 560.0 338.0C561.2 340.0 563.2 341.6 565.0 343.0C566.8 344.4 570.0 345.9 571.0 346.5" class="t"/>
<path d="M597.0 300.0C597.4 301.0 598.8 303.8 599.5 306.0C600.2 308.2 600.7 310.8 601.0 313.0C601.3 315.2 601.4 318.0 601.5 319.0"/>
<path d="M594.0 299.0C594.4 300.2 595.8 303.5 596.5 306.0C597.2 308.5 597.7 311.7 598.0 314.0C598.3 316.3 598.2 319.0 598.3 320.0" class="t"/>
<path d="M592.8 297.5C593.3 297.8 595.2 299.4 596.0 299.5C596.8 299.6 597.2 298.2 597.5 298.0"/>
<path d="M603.5 313.0C603.9 313.8 605.3 316.2 606.0 318.0C606.7 319.8 607.4 322.0 607.5 324.0C607.6 326.0 606.7 329.0 606.5 330.0"/>
<path d="M592.0 289.0C592.5 289.3 594.1 290.1 595.0 291.0C595.9 291.9 596.8 293.2 597.5 294.5C598.2 295.8 598.8 297.8 599.0 298.5" stroke="#222" stroke-width="1.3"/>
<path d="M586.0 264.5C586.6 265.2 588.4 267.2 589.5 269.0C590.6 270.8 591.6 272.8 592.5 275.0C593.4 277.2 594.3 279.7 595.0 282.0C595.7 284.3 596.2 287.8 596.5 289.0"/>
<path d="M574.0 262.0C574.5 262.2 576.0 262.8 577.0 263.5C578.0 264.2 579.5 266.0 580.0 266.5" class="t"/>
<path d="M563.0 266.0C562.6 265.4 560.8 263.6 560.5 262.5C560.2 261.4 560.7 259.7 561.5 259.5C562.3 259.3 564.5 260.8 565.1 261.1"/>
<path d="M545.0 276.0C545.7 275.7 547.6 274.2 549.0 274.0C550.4 273.8 552.3 274.2 553.5 275.0C554.7 275.8 555.6 277.9 556.0 278.5"/>
<path d="M540.0 271.5C540.8 271.1 543.2 269.3 545.0 269.0C546.8 268.7 549.2 268.9 551.0 269.5C552.8 270.1 555.2 272.0 556.0 272.5" class="t"/>
<path d="M519.0 266.0C519.7 265.6 521.5 264.0 523.0 263.5C524.5 263.0 526.5 262.8 528.0 263.0C529.5 263.2 531.3 264.2 532.0 264.5"/>
<path d="M520.0 270.5C520.7 270.2 522.5 268.8 524.0 268.5C525.5 268.2 528.2 268.5 529.0 268.5"/>
<path d="M534.0 266.5C534.8 266.6 537.5 266.5 539.0 267.0C540.5 267.5 542.3 269.1 543.0 269.5" class="t"/>
<circle cx="523.5" cy="267" r="1.5"/><circle cx="547" cy="271.5" r="1.3"/>
<path d="M516.5 274.0C516.7 274.8 517.3 277.3 517.5 279.0C517.7 280.7 517.8 282.3 517.5 284.0C517.2 285.7 516.2 288.2 516.0 289.0"/>
<path d="M518.8 299.5C518.5 300.2 517.4 302.4 517.0 304.0C516.6 305.6 516.3 307.3 516.5 309.0C516.7 310.7 517.8 313.2 518.0 314.0" stroke="#222" stroke-width="1.4"/>
<path d="M531.3 265V279" stroke="#333" stroke-width="1.1" stroke-dasharray="6 2.5"/>
<path d="M566.0 353.0C566.3 353.6 567.0 355.8 568.0 356.5C569.0 357.2 571.0 358.1 572.0 357.5C573.0 356.9 573.7 353.5 574.0 352.7"/>
<path d="M553.0 352.5C553.5 353.1 554.8 355.2 556.0 356.0C557.2 356.8 558.7 357.5 560.0 357.5C561.3 357.5 563.3 356.2 564.0 356.0" class="t"/>
<path d="M568.5 340.5V347M571.5 341.5V348M574.5 343V349" class="t"/>
<path d="M576.0 338.0C576.7 338.4 578.5 340.1 580.0 340.5C581.5 340.9 583.5 340.9 585.0 340.5C586.5 340.1 588.3 338.4 589.0 338.0"/>
<path d="M511.0 302.0C511.2 303.3 511.8 307.3 512.5 310.0C513.2 312.7 513.9 315.5 515.0 318.0C516.1 320.5 517.5 322.9 519.0 325.0C520.5 327.1 523.2 329.6 524.0 330.5"/>
<path d="M521.5 314.0C522.0 315.0 523.2 318.3 524.5 320.0C525.8 321.7 527.2 323.0 529.0 324.0C530.8 325.0 534.0 325.7 535.0 326.0"/>
<path d="M526.0 330.0C526.7 330.6 528.5 332.8 530.0 333.5C531.5 334.2 533.3 334.6 535.0 334.5C536.7 334.4 539.2 333.2 540.0 333.0"/>
<path d="M519.0 333.0C519.5 333.8 520.7 336.8 522.0 338.0C523.3 339.2 525.2 340.2 527.0 340.5C528.8 340.8 531.2 340.2 533.0 339.5C534.8 338.8 536.8 336.6 537.5 336.0"/>
<path d="M515.0 326.0C515.3 327.0 516.2 330.2 517.0 332.0C517.8 333.8 519.5 336.2 520.0 337.0" class="t"/>
<path d="M527 313.5V323M530 314V325M540 313.5V321M543.5 313V320.5" class="t"/>
<path d="M538.0 314.0C538.2 314.7 538.7 316.9 539.5 318.0C540.3 319.1 541.8 320.2 543.0 320.5C544.2 320.8 546.3 320.1 547.0 320.0"/>
<path d="M508.0 346.0C508.7 345.5 510.5 343.6 512.0 343.0C513.5 342.4 515.5 342.2 517.0 342.5C518.5 342.8 520.3 344.2 521.0 344.5"/>
<path d="M500.0 338.0C500.5 337.5 501.8 335.6 503.0 335.0C504.2 334.4 506.8 334.6 507.5 334.5" class="t"/>
<path d="M486.0 332.0C486.5 333.0 487.8 336.2 489.0 338.0C490.2 339.8 491.5 341.5 493.0 343.0C494.5 344.5 497.2 346.3 498.0 347.0"/>
<path d="M478.0 338.5C478.7 339.4 480.5 342.2 482.0 344.0C483.5 345.8 485.3 347.5 487.0 349.0C488.7 350.5 491.2 352.3 492.0 353.0"/>
<path d="M470.0 340.0C470.7 341.0 472.5 344.2 474.0 346.0C475.5 347.8 477.3 349.5 479.0 351.0C480.7 352.5 483.2 354.3 484.0 355.0" class="t"/>
<circle cx="515.5" cy="330.5" r="1.6"/><circle cx="529.5" cy="336.5" r="1.4"/>
<path d="M483.8 267.4C482.6 268.2 478.6 270.1 476.5 272.0C474.4 273.9 472.7 276.2 471.1 278.5C469.5 280.8 468.0 283.1 466.8 285.5C465.6 287.9 464.8 290.3 464.0 292.7C463.2 295.1 462.4 297.6 462.0 300.0C461.6 302.4 461.6 304.8 461.6 307.0C461.7 309.2 461.9 311.4 462.3 313.5C462.7 315.6 463.3 317.9 464.0 319.6C464.7 321.4 465.6 322.7 466.5 324.0C467.4 325.3 469.1 326.9 469.6 327.5" stroke="#222" stroke-width="1.5"/>
<path d="M468.0 272.2C466.7 272.1 462.5 271.3 460.0 271.5C457.5 271.7 454.6 272.6 453.0 273.5C451.4 274.4 450.8 275.6 450.6 276.9C450.4 278.1 452.3 278.9 452.0 281.0C451.7 283.1 449.4 286.9 449.0 289.6C448.6 292.3 449.1 294.6 449.5 297.0C449.9 299.4 450.6 301.8 451.4 303.8C452.2 305.8 453.3 307.4 454.5 309.0C455.7 310.6 457.8 312.6 458.5 313.3" stroke="#222" stroke-width="1.3"/>
<ellipse class="w" cx="545.8" cy="328.2" rx="5.2" ry="2.9" transform="rotate(-8 545.8 328.2)"/>
<ellipse cx="545.8" cy="328" rx="2.5" ry="1.4"/>
<path d="M540.8 330.9C540.9 332.4 541.2 336.8 541.5 340.0C541.8 343.2 542.2 347.1 542.6 350.0C543.0 352.9 543.2 355.8 543.7 357.5C544.2 359.2 544.9 360.0 545.5 360.5C546.1 361.0 546.8 360.7 547.5 360.3C548.2 359.9 549.2 359.0 549.5 358.0C549.8 357.0 549.5 355.1 549.5 354.5"/>
<path d="M547.5 332.5C547.7 334.1 548.2 339.1 548.5 342.0C548.8 344.9 549.3 347.9 549.5 350.0C549.7 352.1 549.5 353.8 549.5 354.5"/>
<path d="M544.0 332.5C544.2 334.1 544.6 338.8 545.0 342.0C545.4 345.2 546.0 350.3 546.2 352.0" class="t"/>
<circle cx="546.6" cy="357" r="1.5"/>
<path d="M551.0 326.5C551.8 326.8 554.4 327.6 556.0 328.0C557.6 328.4 560.0 328.8 560.8 329.0"/>
<path d="M550.0 331.0C550.8 331.3 553.5 332.2 555.0 333.0C556.5 333.8 558.2 334.7 559.0 336.0C559.8 337.3 559.8 340.2 560.0 341.0"/>
<path d="M549.5 344.0C550.1 343.8 551.8 342.6 553.0 342.5C554.2 342.4 556.0 342.8 557.0 343.5C558.0 344.2 558.9 345.8 559.0 347.0C559.1 348.2 558.5 350.1 557.5 351.0C556.5 351.9 554.3 352.4 553.0 352.5C551.7 352.6 550.1 351.7 549.5 351.5"/>
<circle cx="555" cy="347.3" r="1.6"/>
<path d="M559.0 343.0C559.7 342.8 561.7 341.5 563.0 341.5C564.3 341.5 566.1 342.1 567.0 343.0C567.9 343.9 567.7 345.8 568.5 347.0C569.3 348.2 571.4 349.9 572.0 350.5"/>
<path d="M562.5 345V351M565.5 345.5V351.5" class="t"/>
<path d="M516.2 338.6C516.8 339.2 518.4 341.3 520.0 342.0C521.6 342.7 524.0 343.2 526.0 343.0C528.0 342.8 530.3 342.0 532.0 341.0C533.7 340.0 535.0 338.5 536.0 337.0C537.0 335.5 537.7 332.8 538.0 332.0"/>
<path d="M521.8 306.0C521.5 307.0 520.2 310.0 520.0 312.0C519.8 314.0 520.0 316.2 520.5 318.0C521.0 319.8 521.9 321.7 523.0 323.0C524.1 324.3 525.3 325.2 527.0 326.0C528.7 326.8 530.8 327.3 533.0 327.5C535.2 327.7 538.8 327.1 540.0 327.0"/>
<path d="M524.0 312.0C524.0 313.0 523.5 316.2 524.0 318.0C524.5 319.8 525.5 321.4 527.0 322.5C528.5 323.6 532.0 324.2 533.0 324.5" class="t"/>
<path d="M518.0 326.0C518.7 326.8 520.3 329.7 522.0 331.0C523.7 332.3 526.0 333.7 528.0 334.0C530.0 334.3 533.0 333.2 534.0 333.0" class="t"/>
<path d="M509.0 345.0C509.8 345.7 512.2 348.0 514.0 349.0C515.8 350.0 518.3 350.0 520.0 351.0C521.7 352.0 523.3 353.8 524.0 355.0C524.7 356.2 524.1 357.7 524.1 358.2"/>
<path d="M498.0 342.0C498.8 343.2 501.0 347.1 503.0 349.0C505.0 350.9 507.7 352.3 510.0 353.5C512.3 354.7 515.2 354.9 517.0 356.0C518.8 357.1 520.3 359.3 521.0 360.0" class="t"/>
<path d="M490.0 336.0C490.7 337.3 492.3 341.3 494.0 344.0C495.7 346.7 498.0 349.7 500.0 352.0C502.0 354.3 504.3 355.8 506.0 358.0C507.7 360.2 509.3 363.8 510.0 365.0" class="t"/>
</g>
<!-- hose 7 -->
<g id="hose7" class="l">
<!-- top clamp -->
<path d="M265.3 340.1L304.5 359.7" stroke="#222" stroke-width="2"/>
<path d="M265.3 340.1L267.2 342.7L262.1 355.3L261.5 358.5L290.6 373.7L292.5 370.5L295.6 370.5L303.2 365.4L304.5 359.7"/>
<path d="M262.1 355.3L292.5 370.5M267.2 342.7L300 359" />
<path d="M278.5 350L288.5 355L287.5 359.5L277.5 354.5Z" fill="#333" stroke="#222"/>
<path d="M289.5 355.5L297.5 359.5L296.3 364L288.3 360Z" stroke="#222" stroke-width="1.4"/>
<path d="M299.5 358.5L304.5 361L303 366.5L298.3 364Z"/>
<circle cx="278.6" cy="359.2" r=".9"/><circle cx="294" cy="367" r=".9"/>
<!-- hose body upper -->
<path d="M261.5 358.5C259 362 257.7 365 257.7 366.7C256.5 370 256.2 373 256.4 375.6C256.4 380 257 384 257.7 387C258.5 391 260 394.5 261.5 397.1C263 400.5 265 403.5 267.2 405.9C271 411 276 415 280 418.3L286.7 425L293.3 433.3L296.7 440"/>
<path d="M290.6 373.7C290.6 376 290.8 378.5 291.2 380.6C292 383 293.5 385 295.6 387L304.5 397.1L314.6 407.2L323.3 420C325 423 326.5 426 327.5 428.3L330 435"/>
<!-- middle clamp -->
<path d="M296.7 440.8C301 443 306 443.5 310 441.7C315 440.5 320 438.5 323.3 435.8C325.5 434 327.5 431.5 328.3 429.2"/>
<path d="M297.5 445.8C302 448 307 448.5 311.7 446.7C316.5 445.5 321.5 443.5 325 440.8C327.5 439 330 436.5 330.8 434.2" stroke="#222" stroke-width="1.3"/>
<path d="M302.5 450C306 452 310 452.2 313.3 450.8C318 449.5 323 447.2 326.7 444.2C329 442.5 331.5 440.8 332.5 439.2"/>
<path d="M296.7 440.8L297.5 445.8L302.5 450M328.3 429.2L330.8 434.2L332.5 439.2"/>
<circle cx="314.2" cy="442.6" r="1.3"/><circle cx="322.5" cy="436.5" r=".8"/>
<!-- rigid pipe -->
<path d="M303.3 451.7L309.2 457.5L318.3 471.7L330 485L341.7 495L351.7 500L352.3 507"/>
<path d="M332.5 440L337.5 450L346.7 465L355 475L363.3 483.3L366.7 485.4"/>
<path d="M317.5 451.7L353 499.5M322.5 463.3L353.5 497M330 465L358.3 490M335 463.3L361.7 486.7" />
<path d="M326 455L356.5 488.5" class="t"/>
<path d="M319.5 448.5L329.5 447L333.3 452.5L333 464L325.5 465.5L320 460Z" fill="#d4d4d4" stroke="#222" stroke-width="1.3"/>
<path d="M322.5 451.5L329 450.5M323 455.5L330 454.5M324 459.5L331 458.5M326 449V464" stroke="#222" stroke-width=".9"/>
<path d="M330.5 441.5L334.5 446.5L334 450.5L330 449Z" fill="#444" stroke="#222"/>
<circle cx="314.2" cy="466.7" r="1.4"/><path d="M312 464.5L315 463.5" class="t"/>
<!-- joint -->
<path d="M352.3 507L353.4 498.8L357.5 491.5L366.7 485.4"/>
<circle cx="360.4" cy="498" r="1.4"/>
<!-- second straight with clamp -->
<path d="M366.7 485.4L381.1 490.6L399.6 495.7L405.8 497.8L422.3 500.9L442.8 506.2L459.3 513C464 515.5 467.5 518.5 469.9 520.8C475 525 479 529.5 482 534.6C485 540 487 545 487.4 550.7C487.6 555.5 486 560 483.4 564.1C480.5 570 476.5 575.5 472.6 580.3C469.5 584 466.5 587 463.2 589.7"/>
<path d="M352.3 507L366.7 513.2L387.3 520.4L401.7 529.6L418.2 532.7L434.6 536.8C439.5 538.2 444 540.5 447 543C450 545 452.3 547.5 453.1 550.2C454 552.5 453.9 554.5 453.1 556.4C452 559 449.5 561 447 562.5L438.7 568.7"/>
<path d="M398.6 494.7C393 502 390 511 389.4 520.4M403.8 496.3C398 504 394.8 515 393.9 525.5M406.8 497.8C402 506 399.5 518 399.6 528.6"/>
<path d="M389.4 520.4L393.9 525.5L399.6 528.6M398.6 494.7L403.8 496.3L406.8 497.8"/>
<path d="M387.5 516.5L391.5 518.5L393.5 524L390 525.5L387.3 521.5Z" stroke="#222" stroke-width="1.3"/>
<path d="M399.2 529.5L402.5 531.5L401.5 534L398.5 533Z"/>
<circle cx="386.3" cy="507" r="1.3"/>
</g>
<!-- hose 7 end ring -->
<g id="ring7">
<path class="w" d="M434.6 568.7C441 567.5 450 572 455.2 579C459 583.5 461.5 588 461.4 591.4L447 603.7C440 603 433 598 430 592C427 585 428 574 434.6 568.7Z"/>
<g transform="rotate(-28 436.5 586.3)">
<ellipse class="w" cx="436.5" cy="586.3" rx="9.8" ry="16.8"/>
<ellipse class="k" cx="436.5" cy="586.3" rx="9.8" ry="16.8" style="stroke-width:1.5"/>
<ellipse class="l" cx="437.5" cy="586.3" rx="7.6" ry="14.2"/>
<ellipse class="k" cx="438.6" cy="586.3" rx="5.6" ry="12" style="stroke-width:1.3"/>
</g>
<path class="l" d="M438 571.5C445 572.5 452.5 579 456.5 587.5M447 603.7L461.4 591.4M441.5 575.5C447 577.5 452 583 454.5 589.5"/>
<path class="k" d="M446.5 575.5L450 574L452.5 577.5L449.5 579ZM452 597.5L456 599L455 602L450.5 601.5Z" style="stroke-width:1.1"/>
<path class="k" d="M449 580L451.5 585M452.5 587L454.5 593" style="stroke-width:1.6"/>
</g>
<!-- nut 8 -->
<g id="nut8" class="l" transform="translate(0 -0.9)">
<ellipse class="w" cx="365.9" cy="459.4" rx="8.9" ry="4.2"/>
<path class="w" d="M360.2 458.2L359.8 452.6L363 450.2L369 450L372.2 452.2L371.8 458C369 460.3 363.2 460.5 360.2 458.2Z"/>
<path d="M359.8 452.6L363 454.8L369 454.9L372.2 452.2M363 454.8V459.6M369 454.9V459.6" class="t"/>
<ellipse cx="366" cy="452.4" rx="2.6" ry="1.4" class="t"/>
</g>
<!-- intercooler 1 -->
<g id="ic">
<path d="M46.0 499.7V565.5M49.3 501.6V567.4M52.6 503.5V569.3M55.9 505.4V571.3M59.2 507.3V573.2M62.5 509.2V575.1M65.8 511.1V577.1M69.1 513.0V579.0M72.4 514.9V580.9M75.7 516.8V582.8M79.0 518.7V584.8M82.3 520.6V586.7M85.6 522.5V588.6M88.9 524.4V590.6M92.2 526.3V592.5M95.5 528.2V594.4M98.8 530.1V596.3M102.1 531.9V598.3M105.4 533.8V600.2M108.7 535.7V602.1M112.0 537.6V604.1M115.3 539.5V606.0M118.6 541.4V607.9M121.9 543.3V609.8M125.2 545.2V611.8M128.5 547.1V613.7M131.8 549.0V615.6M135.1 550.9V617.5M138.4 552.8V619.5M141.7 554.7V621.4M145.0 556.6V623.3M148.3 558.5V625.3M151.6 560.4V627.2M154.9 562.3V629.1M158.2 564.2V631.0M161.5 566.1V633.0M164.8 568.0V634.9M168.1 569.9V636.8M171.4 571.8V638.8M174.7 573.7V640.7M178.0 575.6V642.6M181.3 577.5V644.5M184.6 579.4V646.5M187.9 581.3V648.4M191.2 583.2V650.3M194.5 585.1V652.3M197.8 587.0V654.2M201.1 588.9V656.1M204.4 590.8V658.0M207.7 592.7V660.0M211.0 594.6V661.9M214.3 596.5V663.8M217.6 598.4V665.8M220.9 600.3V667.7M224.2 602.2V669.6M227.5 604.1V671.5M230.8 606.0V673.5M234.1 607.9V675.4M237.4 609.8V677.3M240.7 611.7V679.3M244.0 613.6V681.2M247.3 615.5V683.1M250.6 617.4V685.0M253.9 619.3V687.0M257.2 621.2V688.9M260.5 623.1V690.8M263.8 625.0V692.7M267.1 626.9V694.7M270.4 628.8V696.6M273.7 630.7V698.5M277.0 632.6V700.5" fill="none" stroke="#3d3d3d" stroke-width="1.3"/>
<path d="M43.8 504.0L281.0 640.8L281.0 643.5L43.8 506.7Z" fill="#fff" stroke="none"/>
<path d="M43.8 503.5L281.0 640.3M43.8 507.2L281.0 644.0" fill="none" stroke="#3a3a3a" stroke-width="1"/>
<path d="M43.8 512.8L281.0 649.8L281.0 652.5L43.8 515.5Z" fill="#fff" stroke="none"/>
<path d="M43.8 512.3L281.0 649.3M43.8 516.0L281.0 653.0" fill="none" stroke="#3a3a3a" stroke-width="1"/>
<path d="M43.8 521.5L281.0 658.8L281.0 661.5L43.8 524.2Z" fill="#fff" stroke="none"/>
<path d="M43.8 521.0L281.0 658.3M43.8 524.7L281.0 662.0" fill="none" stroke="#3a3a3a" stroke-width="1"/>
<path d="M43.8 530.2L281.0 667.8L281.0 670.5L43.8 532.9Z" fill="#fff" stroke="none"/>
<path d="M43.8 529.7L281.0 667.3M43.8 533.4L281.0 671.0" fill="none" stroke="#3a3a3a" stroke-width="1"/>
<path d="M43.8 538.9L281.0 676.8L281.0 679.5L43.8 541.6Z" fill="#fff" stroke="none"/>
<path d="M43.8 538.4L281.0 676.3M43.8 542.1L281.0 680.0" fill="none" stroke="#3a3a3a" stroke-width="1"/>
<path d="M43.8 547.6L281.0 685.8L281.0 688.5L43.8 550.3Z" fill="#fff" stroke="none"/>
<path d="M43.8 547.1L281.0 685.3M43.8 550.8L281.0 689.0" fill="none" stroke="#3a3a3a" stroke-width="1"/>
<path d="M43.8 556.4L281.0 694.8L281.0 697.5L43.8 559.1Z" fill="#fff" stroke="none"/>
<path d="M43.8 555.9L281.0 694.3M43.8 559.6L281.0 698.0" fill="none" stroke="#3a3a3a" stroke-width="1"/>
<path d="M43.8 498.4L281.0 634.9" class="l"/>
<path d="M43.8 564.2L281.0 702.8" class="l"/>
<path class="l" d="M58 486.3L299.4 626.3"/>
<path class="t" d="M62.8 490.4L96 509.7" style="stroke:#999"/>
<path class="l" d="M36.6 495.6L58 486.3M43.8 498.4L62.8 490.4"/>
<path class="l" d="M36.6 495.6L43.8 498.4V564.2L36.6 560.8Z"/>
<path class="t" d="M37.6 500.0L42.8 502.4M37.6 504.1L42.8 506.5M37.6 508.2L42.8 510.6M37.6 512.3L42.8 514.7M37.6 516.4L42.8 518.8M37.6 520.5L42.8 522.9M37.6 524.6L42.8 527.0M37.6 528.7L42.8 531.1M37.6 532.8L42.8 535.2M37.6 536.9L42.8 539.3M37.6 541.0L42.8 543.4M37.6 545.1L42.8 547.5M37.6 549.2L42.8 551.6M37.6 553.3L42.8 555.7M37.6 557.4L42.8 559.8"/>
<path class="l" d="M281 634.9L282.3 637.5L286.7 636.2V704.9L282.4 705.7L281 702.8Z"/>
<path class="t" d="M282.2 641.0L286 640.4M282.2 645.1L286 644.5M282.2 649.2L286 648.6M282.2 653.3L286 652.7M282.2 657.4L286 656.8M282.2 661.5L286 660.9M282.2 665.6L286 665.0M282.2 669.7L286 669.1M282.2 673.8L286 673.2M282.2 677.9L286 677.3M282.2 682.0L286 681.4M282.2 686.1L286 685.5M282.2 690.2L286 689.6M282.2 694.3L286 693.7M282.2 698.4L286 697.8M282.2 702.5L286 701.9"/>
</g>
<!-- intercooler left bracket -->
<g id="icL" class="l" style="stroke-width:1.2;stroke:#2c2c2c">
<path d="M11.3 485L20 480.3L28.7 473.2L34.3 472.4L39 477.1L43 476.3L50.9 479.5L57.2 485.5"/>
<path d="M28.7 473.2V479.5L31 482.6L34.3 481.8V476.5M28.7 479.5L31.5 478L34.3 476.5"/>
<path d="M11.3 485V500.9L16.1 504M11.3 485L20 489.5L27 486L36.6 496.1M20 489.5V499"/>
<path d="M39 477.1V484.5L43.8 490.5M34.3 481.8L39 484.5" class="t"/>
<path d="M16.1 501.6H25.6V515.9H16.1Z"/>
<ellipse cx="20.8" cy="507.6" rx="2.1" ry="2.7"/>
<path d="M16.1 519H25.6V538H16.1Z"/>
<ellipse cx="20.8" cy="529.5" rx="2.1" ry="2.7"/>
<path d="M25.6 501.6L29 498.5L36.6 501M25.6 519L29.5 516.5M16.1 515.9L13.5 514V503.5L16.1 504M16.1 538L13.8 536V521L16.1 519"/>
<path d="M25.6 538L28.7 549.1L36.6 552.3M29.5 543.5L32 541.5L36.6 544"/>
<path d="M27.5 503V512.5M29.8 500.5V514M32.2 501V540M34.5 501.5V543M27.5 520V537M29.8 518V540.5" class="t"/>
<path d="M26 504.5L36.6 508.5M26 509.5L36.6 513.5M26 514.5L36.6 518.5M26 521.5L36.6 525.5M26 527L36.6 531M26 532.5L36.6 536.5M27 537.5L36.6 541.5" class="t"/>
</g>
<!-- intercooler right bracket + outlet -->
<g id="icR" class="l" style="stroke-width:1.3;stroke:#2a2a2a">
<path d="M287.4 636.1L302.2 626.5L307.4 630.9V636.1"/>
<path d="M287.4 641L300 633.5L307.4 636.1M292 644L303 637.5L309.2 642.2" />
<path d="M309.2 642.2L322.2 634.4L334.4 642.2V651.8L320.5 659.6L309.2 653.5Z"/>
<path d="M322.2 634.4V644L334.4 651.8M322.2 644L309.2 651M313.5 645.5V653.5L318 656V648.5Z"/>
<path d="M290.9 655.3L303.1 657.9L301.3 672.7L291.8 670.9Z"/>
<ellipse cx="295.4" cy="664.6" rx="2" ry="2.8"/>
<path d="M291.8 684.8L302.2 688.3L301.3 704L291.8 700.5Z"/>
<ellipse cx="295.4" cy="693.8" rx="2" ry="2.8"/>
<path d="M287.4 704.9L291.8 706.5L301.3 704L305 697"/>
<path d="M292 644L291 655.3M303.1 657.9L309.2 653.5M301.3 672.7L306 676L320.5 672.5V659.6"/>
<path d="M303 668C310 673 322 673 334.4 666M302.5 678C309 683 318 682 325 676.5M302.2 688.3C308 691 315 690 321 684C325 680 329 674 331 668M305 697C311 696 317 692 321 687" />
<path d="M303.5 674.5C311 679 322 678 332 670M303 683C309 686.5 316 685.5 322 680" class="t"/>
<path d="M320.5 659.6L334.4 651.8M334.4 651.8V668.3"/>
<!-- outlet pipe -->
<path class="w" d="M341.8 634.2C343.4 634.5 348.8 634.4 351.3 635.7C353.8 637.0 355.7 639.5 357.0 641.8C358.3 644.1 358.8 646.9 358.9 649.4C359.0 651.9 358.4 654.9 357.5 656.6C356.6 658.4 353.9 659.4 353.2 659.9L343.7 667L335 668.5L334.2 638Z" style="stroke:none"/>
<path d="M341.8 634.2C343.4 634.5 348.8 634.4 351.3 635.7C353.8 637.0 355.7 639.5 357.0 641.8C358.3 644.1 358.8 646.9 358.9 649.4C359.0 651.9 358.4 654.9 357.5 656.6C356.6 658.4 353.9 659.4 353.2 659.9"/>
<path d="M340.4 635.7C341.8 636.2 346.4 637.2 348.5 639.0C350.6 640.8 352.2 644.2 353.2 646.6C354.2 649.0 354.8 651.2 354.7 653.2C354.6 655.2 353.1 658.0 352.8 658.9"/>
<path d="M338.0 637.1C339.3 637.9 343.6 639.8 345.6 641.8C347.6 643.8 349.0 647.0 349.9 649.4C350.8 651.8 351.1 654.2 350.9 656.1C350.7 658.0 348.9 660.0 348.5 660.8"/>
<path d="M335.2 639.0C336.5 640.0 340.9 642.5 342.8 644.7C344.7 646.9 345.9 649.8 346.6 652.3C347.3 654.8 347.6 657.5 347.1 659.9C346.6 662.3 344.3 665.4 343.7 666.5"/>
<path d="M334.2 638L341.8 634.2M335.3 668.3L343.7 667L348.5 660.8L353.2 659.9"/>
</g>
<path class="dd" d="M357.7 638.6L439 586" style="stroke-dasharray:26 4 5 5 22 4 5 4 16 0"/>
<!-- labels & leaders -->
<g id="labels">
<text class="num" x="125.2" y="48.9">3</text>
<path class="lead" d="M125.2 57.8V127.5"/>
<text class="num" x="432.6" y="27.5">4</text>
<text class="num" x="259.4" y="94.8">2</text>
<text class="num" x="615" y="102.3" font-size="17.6">5</text>
<path class="lead" d="M559 96.7H597.8"/>
<text class="num" x="584.7" y="227.7">6</text>
<path class="lead" d="M533 220.6H571"/>
<text class="num" x="351.6" y="243.8">0</text>
<path class="one" d="M342.2 230.9V243.8"/><path class="onef" d="M337.9 234.6L341.9 231.2"/>
<path class="one" d="M382.6 221.8V229.3M393.1 221.8V229.3"/>
<text class="num" x="428.3" y="465.6">8</text>
<path class="lead" d="M375 458.4H414.5"/>
<text class="num" x="563.3" y="558">7</text>
<path class="lead" d="M487.4 551.2H549.8"/>
<path class="one" d="M135.9 698.9V711.8"/><path class="onef" d="M131.5 702.6L135.6 699.2"/>
<path class="lead" d="M133.8 620V692.3"/>
</g>
<!-- red overlays -->
<g id="red">
<rect x="186" y="95.6" width="241" height="48.4" fill="#fff"/>
<rect x="192" y="175" width="212" height="46.2" fill="#fff"/>
<g class="ro">
<text transform="translate(213.36 138.40) scale(0.6148 1)" font-size="57.7">4</text>
<text transform="translate(236.04 138.40) scale(0.6374 1)" font-size="57.7">4</text>
<text transform="translate(259.11 138.40) scale(0.6597 1)" font-size="57.7">6</text>
<text transform="translate(281.74 138.40) scale(0.6851 1)" font-size="57.7">0</text>
<text transform="translate(305.35 138.40) scale(0.6479 1)" font-size="57.7">5</text>
<text transform="translate(349.72 138.40) scale(0.7165 1)" font-size="57.7">7</text>
<text transform="translate(395.96 138.40) scale(0.6061 1)" font-size="57.7">R</text>
<text transform="translate(216.52 217.80) scale(0.7090 1)" font-size="56.2">9</text>
<text transform="translate(241.08 217.80) scale(0.6473 1)" font-size="56.2">5</text>
<text transform="translate(264.02 217.80) scale(0.6223 1)" font-size="56.2">5</text>
<text transform="translate(285.92 217.80) scale(0.6579 1)" font-size="56.2">2</text>
<text transform="translate(307.82 217.80) scale(0.6777 1)" font-size="56.2">4</text>
<text transform="translate(331.34 217.80) scale(0.7034 1)" font-size="56.2">0</text>
<text transform="translate(355.05 217.80) scale(0.6587 1)" font-size="56.2">3</text>
<text transform="translate(377.23 217.80) scale(0.6505 1)" font-size="56.2">2</text>
<path d="M202.0 98.6L205.1 98.6L205.1 138.4L200.0 138.4L200.0 111.9L193.5 115.9L193.5 109.7L198.4 105.3Z"/>
<path d="M339.9 98.6L343.0 98.6L343.0 138.4L337.9 138.4L337.9 111.9L331.4 115.9L331.4 109.7L336.3 105.3Z"/>
<path d="M385.6 98.6L388.7 98.6L388.7 138.4L383.6 138.4L383.6 111.9L377.1 115.9L377.1 109.7L382.0 105.3Z"/>
</g>
<g class="rd">
<text transform="translate(213.36 138.40) scale(0.6148 1)" font-size="57.7">4</text>
<text transform="translate(236.04 138.40) scale(0.6374 1)" font-size="57.7">4</text>
<text transform="translate(259.11 138.40) scale(0.6597 1)" font-size="57.7">6</text>
<text transform="translate(281.74 138.40) scale(0.6851 1)" font-size="57.7">0</text>
<text transform="translate(305.35 138.40) scale(0.6479 1)" font-size="57.7">5</text>
<text transform="translate(349.72 138.40) scale(0.7165 1)" font-size="57.7">7</text>
<text transform="translate(395.96 138.40) scale(0.6061 1)" font-size="57.7">R</text>
<text transform="translate(216.52 217.80) scale(0.7090 1)" font-size="56.2">9</text>
<text transform="translate(241.08 217.80) scale(0.6473 1)" font-size="56.2">5</text>
<text transform="translate(264.02 217.80) scale(0.6223 1)" font-size="56.2">5</text>
<text transform="translate(285.92 217.80) scale(0.6579 1)" font-size="56.2">2</text>
<text transform="translate(307.82 217.80) scale(0.6777 1)" font-size="56.2">4</text>
<text transform="translate(331.34 217.80) scale(0.7034 1)" font-size="56.2">0</text>
<text transform="translate(355.05 217.80) scale(0.6587 1)" font-size="56.2">3</text>
<text transform="translate(377.23 217.80) scale(0.6505 1)" font-size="56.2">2</text>
<path d="M202.0 98.6L205.1 98.6L205.1 138.4L200.0 138.4L200.0 111.9L193.5 115.9L193.5 109.7L198.4 105.3Z"/>
<path d="M339.9 98.6L343.0 98.6L343.0 138.4L337.9 138.4L337.9 111.9L331.4 115.9L331.4 109.7L336.3 105.3Z"/>
<path d="M385.6 98.6L388.7 98.6L388.7 138.4L383.6 138.4L383.6 111.9L377.1 115.9L377.1 109.7L382.0 105.3Z"/>
</g>
<g class="rf">
<text transform="translate(213.36 138.40) scale(0.6148 1)" font-size="57.7">4</text>
<text transform="translate(236.04 138.40) scale(0.6374 1)" font-size="57.7">4</text>
<text transform="translate(259.11 138.40) scale(0.6597 1)" font-size="57.7">6</text>
<text transform="translate(281.74 138.40) scale(0.6851 1)" font-size="57.7">0</text>
<text transform="translate(305.35 138.40) scale(0.6479 1)" font-size="57.7">5</text>
<text transform="translate(349.72 138.40) scale(0.7165 1)" font-size="57.7">7</text>
<text transform="translate(395.96 138.40) scale(0.6061 1)" font-size="57.7">R</text>
<text transform="translate(216.52 217.80) scale(0.7090 1)" font-size="56.2">9</text>
<text transform="translate(241.08 217.80) scale(0.6473 1)" font-size="56.2">5</text>
<text transform="translate(264.02 217.80) scale(0.6223 1)" font-size="56.2">5</text>
<text transform="translate(285.92 217.80) scale(0.6579 1)" font-size="56.2">2</text>
<text transform="translate(307.82 217.80) scale(0.6777 1)" font-size="56.2">4</text>
<text transform="translate(331.34 217.80) scale(0.7034 1)" font-size="56.2">0</text>
<text transform="translate(355.05 217.80) scale(0.6587 1)" font-size="56.2">3</text>
<text transform="translate(377.23 217.80) scale(0.6505 1)" font-size="56.2">2</text>
<path d="M202.0 98.6L205.1 98.6L205.1 138.4L200.0 138.4L200.0 111.9L193.5 115.9L193.5 109.7L198.4 105.3Z"/>
<path d="M339.9 98.6L343.0 98.6L343.0 138.4L337.9 138.4L337.9 111.9L331.4 115.9L331.4 109.7L336.3 105.3Z"/>
<path d="M385.6 98.6L388.7 98.6L388.7 138.4L383.6 138.4L383.6 111.9L377.1 115.9L377.1 109.7L382.0 105.3Z"/>
</g>
<rect x="456.3" y="49.7" width="72.1" height="61.3" rx="7.5" ry="7.5" fill="none" stroke="#d8202b" stroke-width="8.1"/>
<path d="M536.6 67.9 L581.8 50.5 L581.8 58.9 L627.6 58.9 L627.6 75.8 L581.8 75.8 L581.8 84.8 Z" fill="#ee1019" stroke="#1a0505" stroke-width="1.4" stroke-linejoin="miter"/>
</g>
</svg>
</body></html>
